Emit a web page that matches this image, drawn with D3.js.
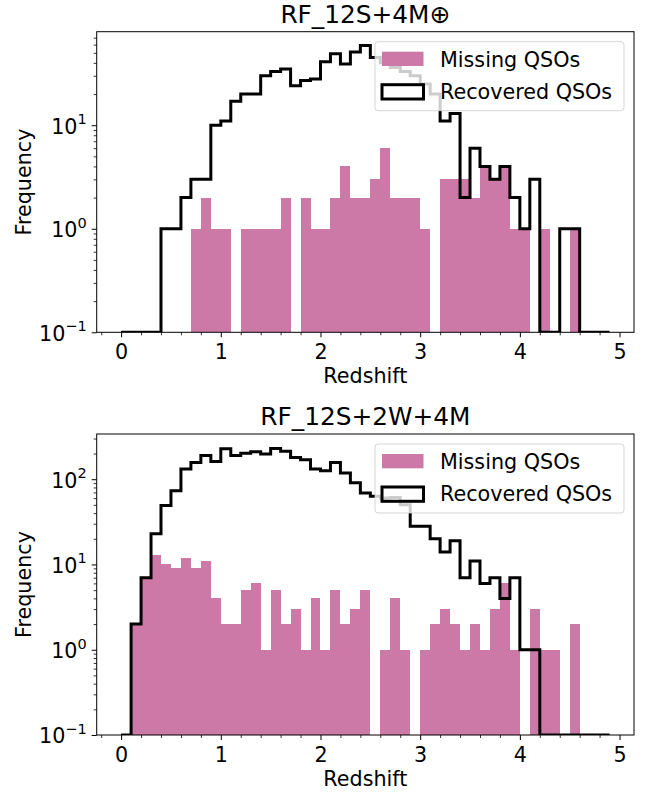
<!DOCTYPE html>
<html>
<head>
<meta charset="utf-8">
<script src="https://cdn.jsdelivr.net/npm/d3@7"></script>
<style>
  body { margin: 0; background: #ffffff; }
  svg text { font-family: "DejaVu Sans", sans-serif; fill: #000000; }
</style>
</head>
<body>
<svg id="fig" width="651" height="792"></svg>
<script>
// Redshift bins (left edges), width 0.1
const binWidth = 0.1;
const binStarts = [
  0.0, 0.1, 0.2, 0.3, 0.4, 0.5, 0.6, 0.7, 0.8, 0.9,
  1.0, 1.1, 1.2, 1.3, 1.4, 1.5, 1.6, 1.7, 1.8, 1.9,
  2.0, 2.1, 2.2, 2.3, 2.4, 2.5, 2.6, 2.7, 2.8, 2.9,
  3.0, 3.1, 3.2, 3.3, 3.4, 3.5, 3.6, 3.7, 3.8, 3.9,
  4.0, 4.1, 4.2, 4.3, 4.4, 4.5, 4.6, 4.7, 4.8
];

// RF_12S+4M⊕ counts per bin
const missingTop = [
  0, 0, 0, 0, 0, 0, 0, 1, 2, 1,
  1, 0, 1, 1, 1, 1, 2, 0, 2, 1,
  1, 2, 4, 2, 2, 3, 6, 2, 2, 2,
  1, 0, 3, 3, 3, 2, 4, 3, 4, 1,
  1, 0, 1, 0, 0, 1, 0, 0, 0
];
const recoveredTop = [
  0, 0, 0, 0, 1, 1, 2, 3, 3, 10,
  11, 17, 20, 20, 30, 33, 35, 24, 27, 28,
  41, 49, 39, 51, 59, 45, 40, 36, 33, 30,
  25, 20, 11, 13, 2, 6, 4, 3, 4, 2,
  1, 3, 0, 0, 1, 1, 0, 0, 0
];

// RF_12S+2W+4M counts per bin
const missingBottom = [
  0, 2, 7, 13, 10, 9, 12, 9, 11, 4,
  2, 2, 5, 6, 1, 5, 2, 3, 1, 4,
  1, 5, 2, 3, 5, 0, 1, 4, 1, 0,
  1, 2, 3, 2, 1, 2, 1, 3, 6, 1,
  0, 3, 1, 1, 0, 2, 0, 0, 0
];
const recoveredBottom = [
  0, 2, 7, 23, 49, 73, 132, 157, 190, 161,
  227, 190, 202, 210, 197, 229, 213, 180, 169, 132,
  126, 157, 118, 91, 69, 63, 60, 61, 50, 28,
  28, 20, 14, 19, 7, 11, 6, 7, 4, 7,
  1, 1, 0, 0, 0, 0, 0, 0, 0
];

const panelTitles = ["RF_12S+4M\u2295", "RF_12S+2W+4M"];
const legendLabels = ["Missing QSOs", "Recovered QSOs"];
const xTickValues = [0, 1, 2, 3, 4, 5];
const yTickExponentsTop = [-1, 0, 1];
const yTickExponentsBottom = [-1, 0, 1, 2];
const xAxisLabel = "Redshift";
const yAxisLabel = "Frequency";

const missingColor = "#CC79A7";
const fontSize = 20.7;
const titleSize = 24.8;

const svg = d3.select("#fig");

const panels = [
  { top: 31.7, bottom: 332.3, yMax: 80, title: panelTitles[0],
    missing: missingTop, recovered: recoveredTop, exps: yTickExponentsTop },
  { top: 434, bottom: 735, yMax: 339, title: panelTitles[1],
    missing: missingBottom, recovered: recoveredBottom, exps: yTickExponentsBottom }
];

const left = 96.7, right = 634;
const x = d3.scaleLinear().domain([-0.245, 5.145]).range([left, right]);

panels.forEach((p, pi) => {
  const y = d3.scaleLog().domain([0.1, p.yMax]).range([p.bottom, p.top]);
  const g = svg.append("g");

  const clipId = "clip" + pi;
  g.append("clipPath").attr("id", clipId)
    .append("rect")
    .attr("x", left).attr("y", p.top)
    .attr("width", right - left).attr("height", p.bottom - p.top);

  const plot = g.append("g").attr("clip-path", `url(#${clipId})`);

  // filled bars for the missing objects
  const bars = binStarts.map((b, i) => ({ x0: b, x1: b + binWidth, v: p.missing[i] }))
    .filter(d => d.v > 0);
  plot.selectAll("rect.bar").data(bars).enter().append("rect")
    .attr("class", "bar")
    .attr("x", d => x(d.x0))
    .attr("width", d => x(d.x1) - x(d.x0))
    .attr("y", d => y(d.v))
    .attr("height", d => y(0.1) - y(d.v))
    .attr("fill", missingColor)
    .attr("shape-rendering", "crispEdges");

  // step outline for the recovered objects
  const floor = 0.1;
  const pts = [[binStarts[0], floor]];
  binStarts.forEach((b, i) => {
    const v = Math.max(p.recovered[i], floor);
    pts.push([b, v]);
    pts.push([b + binWidth, v]);
  });
  pts.push([binStarts[binStarts.length - 1] + binWidth, floor]);

  const line = d3.line().x(d => x(d[0])).y(d => y(d[1]));
  plot.append("path")
    .attr("d", line(pts))
    .attr("fill", "none")
    .attr("stroke", "#000")
    .attr("stroke-width", 3)
    .attr("stroke-linejoin", "miter");

  // x axis: major and minor ticks
  const xMinor = [];
  for (let t = -0.2; t <= 5.1; t += 0.2) {
    const r = Math.round(t * 10) / 10;
    if (Math.abs(r - Math.round(r)) > 1e-6) xMinor.push(r);
  }
  const xAxisMinor = d3.axisBottom(x).tickValues(xMinor).tickSize(3).tickFormat("");
  const gxm = g.append("g").attr("transform", `translate(0,${p.bottom})`).call(xAxisMinor);
  gxm.select(".domain").remove();
  gxm.selectAll("line").attr("stroke", "#000").attr("stroke-width", 0.8);

  const xAxis = d3.axisBottom(x).tickValues(xTickValues).tickSize(5).tickPadding(6)
    .tickFormat(d3.format("d"));
  const gx = g.append("g").attr("transform", `translate(0,${p.bottom})`).call(xAxis);
  gx.select(".domain").remove();
  gx.selectAll("line").attr("stroke", "#000").attr("stroke-width", 1);
  gx.selectAll("text")
    .attr("font-size", fontSize)
    .attr("font-family", "DejaVu Sans")
    .attr("fill", "#000")
    .attr("dy", null)
    .attr("y", 27);

  // y axis: log ticks labelled as powers of ten
  const yMajor = p.exps.map(e => Math.pow(10, e));
  const yMinor = [];
  for (let e = -1; e <= 3; e++) {
    for (let m = 2; m <= 9; m++) {
      const v = m * Math.pow(10, e);
      if (v < p.yMax) yMinor.push(v);
    }
  }
  const yAxisMinor = d3.axisLeft(y).tickValues(yMinor).tickSize(3).tickFormat("");
  const gym = g.append("g").attr("transform", `translate(${left},0)`).call(yAxisMinor);
  gym.select(".domain").remove();
  gym.selectAll("line").attr("stroke", "#000").attr("stroke-width", 0.8);

  const yAxis = d3.axisLeft(y).tickValues(yMajor).tickSize(5).tickPadding(5).tickFormat("");
  const gy = g.append("g").attr("transform", `translate(${left},0)`).call(yAxis);
  gy.select(".domain").remove();
  gy.selectAll("line").attr("stroke", "#000").attr("stroke-width", 1);
  gy.selectAll(".tick").each(function (d, i) {
    const e = p.exps[i];
    const t = d3.select(this).append("text")
      .attr("x", -10)
      .attr("y", 7.8)
      .attr("text-anchor", "end")
      .attr("font-size", fontSize)
      .attr("fill", "#000");
    t.append("tspan").text("10");
    t.append("tspan")
      .attr("font-size", 14.5)
      .attr("dy", -9.5)
      .text(String(e).replace("-", "\u2212"));
  });

  // frame
  g.append("rect")
    .attr("x", left).attr("y", p.top)
    .attr("width", right - left).attr("height", p.bottom - p.top)
    .attr("fill", "none").attr("stroke", "#000").attr("stroke-width", 1);

  // title and axis labels
  g.append("text")
    .attr("x", (left + right) / 2).attr("y", p.top - 9)
    .attr("text-anchor", "middle").attr("font-size", titleSize)
    .text(p.title);

  g.append("text")
    .attr("x", (left + right) / 2).attr("y", p.bottom + 51)
    .attr("text-anchor", "middle").attr("font-size", fontSize)
    .text(xAxisLabel);

  g.append("text")
    .attr("transform", `translate(31,${(p.top + p.bottom) / 2}) rotate(-90)`)
    .attr("text-anchor", "middle").attr("font-size", fontSize)
    .text(yAxisLabel);

  // legend
  const lg = g.append("g").attr("transform", `translate(375,${p.top + 10})`);
  lg.append("rect")
    .attr("x", 0).attr("y", 0).attr("width", 249).attr("height", 69)
    .attr("rx", 3).attr("ry", 3)
    .attr("fill", "#ffffff").attr("fill-opacity", 0.8)
    .attr("stroke", "#cccccc").attr("stroke-opacity", 0.8).attr("stroke-width", 1);
  lg.append("rect")
    .attr("x", 7).attr("y", 10).attr("width", 41.5).attr("height", 14.3)
    .attr("fill", missingColor);
  lg.append("rect")
    .attr("x", 7).attr("y", 43).attr("width", 41.5).attr("height", 14.3)
    .attr("fill", "none").attr("stroke", "#000").attr("stroke-width", 3);
  lg.append("text").attr("x", 65).attr("y", 25).attr("font-size", fontSize).text(legendLabels[0]);
  lg.append("text").attr("x", 65).attr("y", 57).attr("font-size", fontSize).text(legendLabels[1]);
});
</script>
</body>
</html>
